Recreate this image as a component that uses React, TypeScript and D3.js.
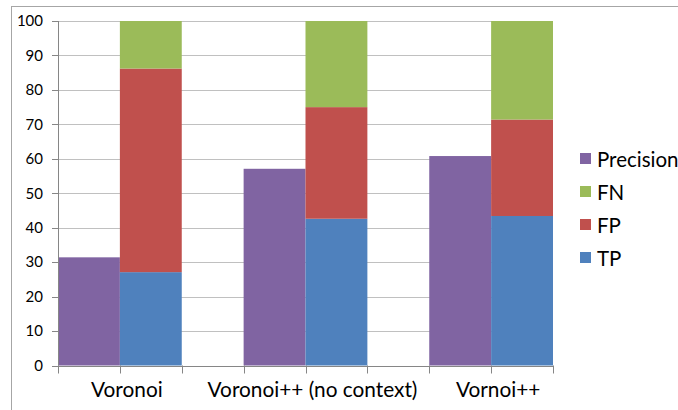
import React from "react";
import * as d3 from "d3";

const categories = ["Voronoi", "Voronoi++ (no context)", "Vornoi++"];
const precision = [31.4, 57.1, 60.8];
const tp = [27.1, 42.6, 43.4];
const fp = [59.1, 32.4, 28.0];
const fn = [13.8, 25.0, 28.6];
const yTicks = [0, 10, 20, 30, 40, 50, 60, 70, 80, 90, 100];
const legendItems = ["Precision", "FN", "FP", "TP"];

const colors: Record<string, string> = {
  Precision: "#8064A2",
  FN: "#9BBB59",
  FP: "#C0504D",
  TP: "#4F81BD",
};

const W = 678;
const H = 410;
const left = 58;
const right = 553;
const top = 21;
const bottom = 365.5;
const font = "Lato, 'Open Sans', sans-serif";

export default function App() {
  const y = d3.scaleLinear().domain([0, 100]).range([bottom, top]);
  const x = d3
    .scaleBand<string>()
    .domain(categories)
    .range([left, right])
    .paddingInner(1 / 3)
    .paddingOuter(0);
  const sub = d3.scaleBand<string>().domain(["p", "s"]).range([0, x.bandwidth()]);
  const slot = x.step() / 3;
  const slotTicks = d3.range(9).map((i) => left + i * slot);

  const stackData = categories.map((c, i) => ({ cat: c, TP: tp[i], FP: fp[i], FN: fn[i] }));
  const series = d3.stack<any>().keys(["TP", "FP", "FN"])(stackData);

  return (
    <svg width={W} height={H} style={{ position: "absolute", left: 0, top: 0, background: "#fff" }}>
      <rect x={11.5} y={6.5} width={720} height={440} fill="#fff" stroke="#a6a6a6" strokeWidth={1} />
      {yTicks.map((t) => (
        <line key={"g" + t} x1={left} x2={right} y1={Math.round(y(t)) + 0.5} y2={Math.round(y(t)) + 0.5} stroke="#c0c0c0" strokeWidth={1.2} />
      ))}
      {categories.map((c, i) => (
        <rect key={"p" + c} x={(x(c) as number) + (sub("p") as number)} y={y(precision[i])} width={sub.bandwidth()} height={y(0) - y(precision[i])} fill={colors.Precision} />
      ))}
      {series.map((s) =>
        s.map((d, i) => (
          <rect key={s.key + i} x={(x(categories[i]) as number) + (sub("s") as number)} y={y(d[1])} width={sub.bandwidth()} height={y(d[0]) - y(d[1])} fill={colors[s.key]} />
        ))
      )}
      <line x1={left + 0.5} x2={left + 0.5} y1={top} y2={bottom} stroke="#868686" />
      {yTicks.map((t) => (
        <line key={"t" + t} x1={left - 6} x2={left} y1={Math.round(y(t)) + 0.5} y2={Math.round(y(t)) + 0.5} stroke="#868686" />
      ))}
      <line x1={left} x2={right} y1={Math.round(bottom) + 0.5} y2={Math.round(bottom) + 0.5} stroke="#868686" />
      {slotTicks.map((v, i) => (
        <line key={"xt" + i} x1={Math.round(v) + 0.5} x2={Math.round(v) + 0.5} y1={bottom} y2={bottom + 8} stroke="#868686" />
      ))}
      {yTicks.map((t) => (
        <text key={"l" + t} x={43} y={y(t)} dy="0.35em" textAnchor="end" fontFamily={font} fontSize={15} fill="#000">
          {t}
        </text>
      ))}
      {categories.map((c) => (
        <text key={"c" + c} x={(x(c) as number) + x.bandwidth() / 2 + 7} y={397} textAnchor="middle" fontFamily={font} fontSize={20.8} fill="#000">
          {c}
        </text>
      ))}
      {legendItems.map((k, i) => (
        <g key={"lg" + k} transform={`translate(580, ${153 + i * 33})`}>
          <rect x={0} y={0} width={11} height={11} fill={colors[k]} />
          <text x={17} y={13.8} fontFamily={font} fontSize={20.5} fill="#000">
            {k}
          </text>
        </g>
      ))}
    </svg>
  );
}
